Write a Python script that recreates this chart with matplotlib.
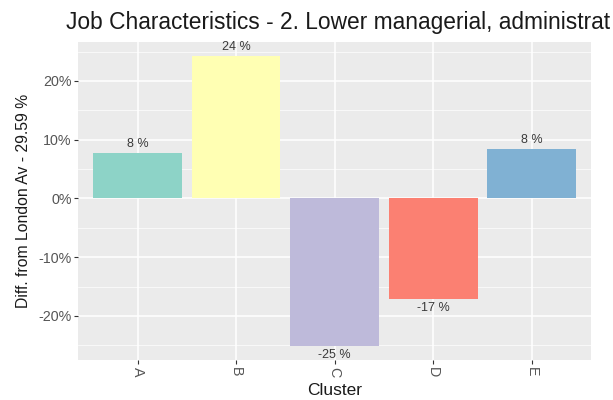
import matplotlib
matplotlib.use("Agg")
import matplotlib.pyplot as plt
from matplotlib.ticker import MultipleLocator, FuncFormatter

plt.rcParams['font.family'] = ['Liberation Sans', 'DejaVu Sans']

# Difference of each cluster from the London average (percentage points)
clusters = ["A", "B", "C", "D", "E"]
diff_pct = [7.8, 24.3, -25.2, -17.2, 8.5]
labels = ["8 %", "24 %", "-25 %", "-17 %", "8 %"]
colors = ["#8DD3C7", "#FFFFB3", "#BEBADA", "#FB8072", "#80B1D3"]

title = "Job Characteristics - 2. Lower managerial, administrat"
ylabel = "Diff. from London Av - 29.59 %"
xlabel = "Cluster"

fig = plt.figure(figsize=(6.13, 4.0), dpi=100)
ax = fig.add_axes([0.128, 0.10, 0.836, 0.796])

ax.set_facecolor("#EBEBEB")
x = list(range(len(clusters)))
ax.bar(x, diff_pct, width=0.9, color=colors, zorder=3)

for xi, v, lab in zip(x, diff_pct, labels):
    if v >= 0:
        ax.text(xi, v + 0.5, lab, ha="center", va="bottom", fontsize=9,
                color="#3A3A3A", zorder=4)
    else:
        ax.text(xi, v - 0.5, lab, ha="center", va="top", fontsize=9,
                color="#3A3A3A", zorder=4)

ax.set_xlim(-0.6, len(clusters) - 0.4)
ax.set_ylim(-27.5, 26.7)

ax.yaxis.set_major_locator(MultipleLocator(10))
ax.yaxis.set_minor_locator(MultipleLocator(5))
ax.yaxis.set_major_formatter(FuncFormatter(lambda v, p: f"{int(round(v))}%"))
ax.set_xticks(x)
ax.set_xticklabels(clusters, rotation=270)

ax.grid(which="major", color="white", linewidth=1.1, zorder=0)
ax.grid(which="minor", axis="y", color="white", linewidth=0.5, zorder=0)
ax.set_axisbelow(True)

for s in ax.spines.values():
    s.set_visible(False)

ax.tick_params(axis="both", which="major", length=3, color="#333333",
               labelcolor="#555555", labelsize=10.3, pad=2)
ax.tick_params(axis="both", which="minor", length=0)

ax.set_xlabel(xlabel, fontsize=12.5, color="#1A1A1A", labelpad=4)
ax.set_ylabel(ylabel, fontsize=11.3, color="#1A1A1A", labelpad=5)

fig.text(66 / 613, 1 - 22 / 400, title, fontsize=16.4, color="#1A1A1A",
         ha="left", va="center")

fig.savefig("out.png", dpi=100, facecolor="white")
